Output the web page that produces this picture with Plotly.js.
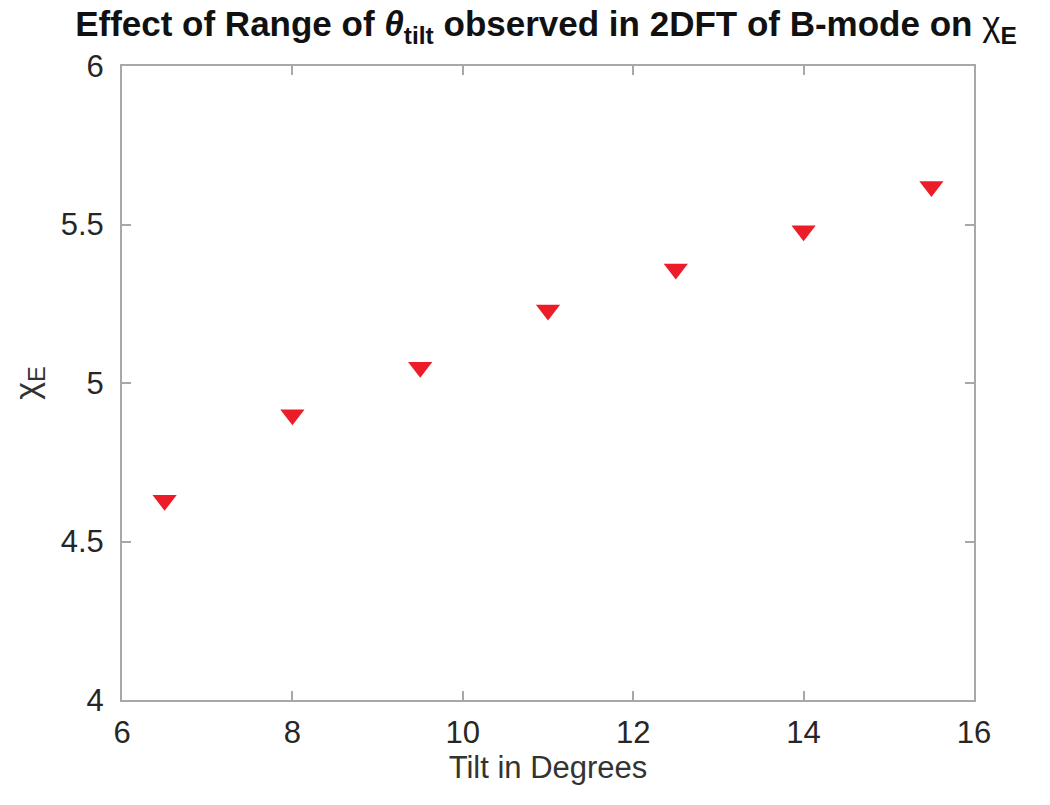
<!DOCTYPE html>
<html>
<head>
<meta charset="utf-8">
<script src="https://cdn.plot.ly/plotly-3.0.1.min.js"></script>
<style>html,body{margin:0;padding:0;background:#fff;}#chart{width:1050px;height:805px;}</style>
</head>
<body>
<div id="chart"></div>
<script>
const tiltDegrees = [6.5, 8, 9.5, 11, 12.5, 14, 15.5];
const chiE = [4.63, 4.90, 5.05, 5.23, 5.36, 5.48, 5.62];
const xTicks = [6, 8, 10, 12, 14, 16];
const yTicks = [4, 4.5, 5, 5.5, 6];
const yTickText = ['4', '4.5', '5', '5.5', '6'];

const font = 'Liberation Sans, Arial, Helvetica, sans-serif';
const axisColor = '#a8a8a8';
const textColor = '#262626';

const trace = {
  x: tiltDegrees,
  y: chiE,
  type: 'scatter',
  mode: 'markers',
  marker: {symbol: 'triangle-down', size: 21, color: 'rgb(236,28,40)', line: {width: 0}},
  showlegend: false,
  hoverinfo: 'x+y'
};

const axisBase = {
  showline: true, mirror: 'ticks', linecolor: axisColor, linewidth: 2,
  ticks: 'inside', ticklen: 9, tickwidth: 2, tickcolor: axisColor,
  showgrid: false, zeroline: false,
  tickfont: {family: font, size: 31, color: textColor}
};

const layout = {
  width: 1050, height: 805,
  margin: {l: 122, r: 76, t: 66, b: 105, pad: 0},
  paper_bgcolor: '#fff', plot_bgcolor: '#fff',
  title: {
    text: '<b>Effect of Range of <i>θ</i><sub>tilt</sub> observed in 2DFT of B-mode on </b>χ<sub><b>E</b></sub>',
    font: {family: font, size: 35, color: '#111'},
    x: 0.52, xanchor: 'center', y: 0.97, yanchor: 'middle'
  },
  xaxis: Object.assign({}, axisBase, {
    range: [6, 16], tickvals: xTicks, ticktext: xTicks.map(String),
    ticklabelstandoff: 4,
    title: {text: 'Tilt in Degrees', font: {family: font, size: 31, color: '#333'}, standoff: 6}
  }),
  yaxis: Object.assign({}, axisBase, {
    range: [4, 6], tickvals: yTicks, ticktext: yTickText,
    ticklabelstandoff: 10,
    title: {text: 'χ<sub>E</sub>', font: {family: font, size: 34, color: '#333'}, standoff: 12}
  })
};

Plotly.newPlot('chart', [trace], layout, {displayModeBar: false, staticPlot: true});
</script>
</body>
</html>
